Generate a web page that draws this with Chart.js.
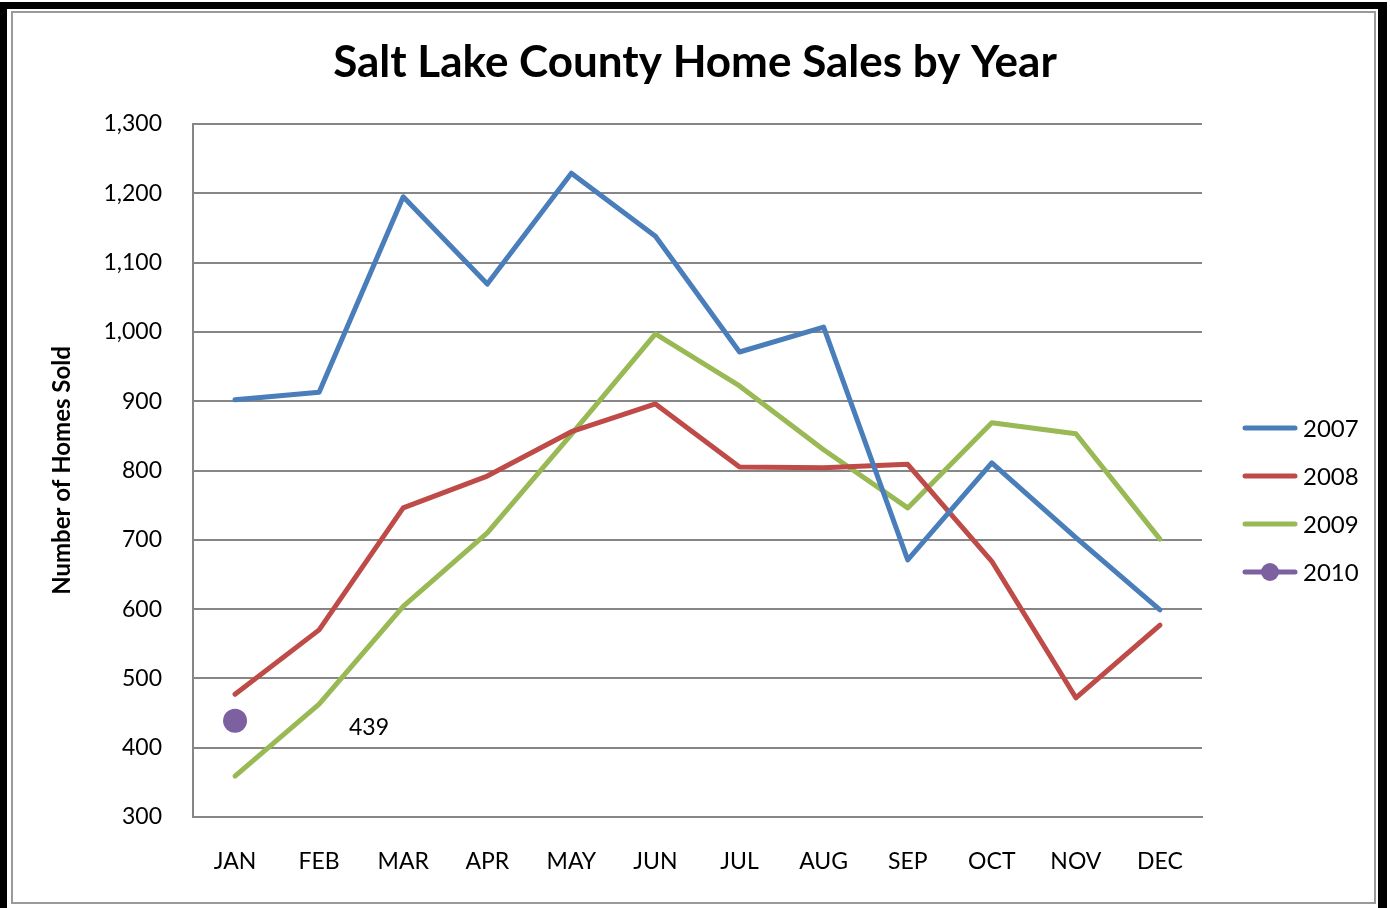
<!DOCTYPE html>
<html>
<head>
<meta charset="utf-8">
<script src="https://cdn.jsdelivr.net/npm/chart.js@4/dist/chart.umd.min.js"></script>
<style>
  html, body { margin: 0; padding: 0; background: #fff; }
  #wrap { position: absolute; left: 0; top: 0; width: 1390px; height: 908px; }
</style>
</head>
<body>
<div id="wrap"><canvas id="c" width="1390" height="908"></canvas></div>
<script>
const months = ['JAN','FEB','MAR','APR','MAY','JUN','JUL','AUG','SEP','OCT','NOV','DEC'];
const sales2007 = [902, 913, 1195, 1069, 1229, 1138, 971, 1007, 671, 811, 703, 599];
const sales2008 = [477, 570, 746, 792, 856, 896, 805, 804, 809, 669, 472, 577];
const sales2009 = [359, 463, 604, 710, 852, 997, 922, 830, 746, 869, 853, 701];
const sales2010 = [439, null, null, null, null, null, null, null, null, null, null, null];
const seriesLabels = ['2007', '2008', '2009', '2010'];
const seriesColors = ['#4A7EBB', '#BE4B48', '#98B954', '#7D60A0'];

const FONT = 'Lato, "Open Sans", sans-serif';

const framePlugin = {
  id: 'frame',
  beforeDraw(chart) {
    const ctx = chart.ctx;
    ctx.save();
    ctx.fillStyle = '#fff';
    ctx.fillRect(0, 0, chart.width, chart.height);
    ctx.fillStyle = '#000';
    ctx.fillRect(0, 2, 7, chart.height - 2);
    ctx.fillRect(0, 2, 1387, 7);
    ctx.fillRect(1378, 2, 9, chart.height - 2);
    ctx.strokeStyle = '#9a9a9a';
    ctx.lineWidth = 2;
    ctx.strokeRect(12, 12, 1363, 891);
    ctx.restore();
  }
};

const extrasPlugin = {
  id: 'extras',
  afterDraw(chart) {
    const ctx = chart.ctx;
    ctx.save();
    // data label for 2010
    const meta = chart.getDatasetMeta(3);
    const pt = meta.data[0];
    ctx.fillStyle = '#000';
    ctx.font = '23px ' + FONT;
    ctx.textAlign = 'center';
    ctx.textBaseline = 'middle';
    ctx.fillText(String(sales2010[0]), pt.x + 134, pt.y + 7);
    // legend
    const lx0 = 1245, lx1 = 1295;
    const ys = [428, 476, 524, 572];
    chart.data.datasets.forEach((ds, i) => {
      const y = ys[i];
      ctx.strokeStyle = ds.borderColor;
      ctx.lineWidth = 5;
      ctx.lineCap = 'round';
      ctx.beginPath();
      ctx.moveTo(lx0, y);
      ctx.lineTo(lx1, y);
      ctx.stroke();
      if (i === 3) {
        ctx.fillStyle = ds.backgroundColor;
        ctx.beginPath();
        ctx.arc((lx0 + lx1) / 2, y, 9, 0, Math.PI * 2);
        ctx.fill();
      }
      ctx.fillStyle = '#000';
      ctx.font = '24px ' + FONT;
      ctx.textAlign = 'left';
      ctx.textBaseline = 'middle';
      ctx.fillText(ds.label, 1303, y + 1);
    });
    ctx.restore();
  }
};

const ds = (i, data, extra) => Object.assign({
  label: seriesLabels[i],
  data: data,
  borderColor: seriesColors[i],
  backgroundColor: seriesColors[i],
  borderWidth: 5,
  pointRadius: 0,
  tension: 0,
  borderCapStyle: 'round',
  borderJoinStyle: 'round'
}, extra || {});

new Chart(document.getElementById('c'), {
  type: 'line',
  data: {
    labels: months,
    datasets: [
      ds(0, sales2007),
      ds(1, sales2008),
      ds(2, sales2009),
      ds(3, sales2010, { pointRadius: 12, pointBorderWidth: 0, showLine: false })
    ]
  },
  options: {
    responsive: false,
    animation: false,
    events: [],
    layout: { padding: { left: 0, right: 0, top: 10, bottom: 0 } },
    plugins: {
      legend: { display: false },
      tooltip: { enabled: false },
      title: {
        display: true,
        text: 'Salt Lake County Home Sales by Year',
        color: '#000',
        font: { family: FONT, size: 44, weight: 'bold', lineHeight: 1.2 },
        padding: { top: 26.6, bottom: 34.6 }
      }
    },
    scales: {
      x: {
        offset: true,
        grid: { display: false, drawTicks: false },
        border: { display: true, color: '#868686', width: 2 },
        ticks: { color: '#000', font: { family: FONT, size: 23 }, padding: 31, maxRotation: 0, autoSkip: false },
        afterFit(scale) { scale.height = 91; }
      },
      y: {
        min: 300,
        max: 1300,
        ticks: {
          stepSize: 100,
          color: '#000',
          font: { family: FONT, size: 23 },
          padding: 31,
          callback: (v) => v.toLocaleString('en-US')
        },
        grid: { color: '#868686', lineWidth: 2, drawTicks: false },
        border: { display: true, color: '#868686', width: 2 },
        title: {
          display: true,
          text: 'Number of Homes Sold',
          color: '#000',
          font: { family: FONT, size: 24, weight: 'bold', lineHeight: 1.2 },
          padding: { top: 48, bottom: 0 }
        },
        afterFit(scale) { scale.width = 193; }
      },
      yRight: {
        position: 'right',
        display: true,
        min: 300,
        max: 1300,
        grid: { display: false, drawTicks: false },
        border: { display: false },
        ticks: { display: false },
        afterFit(scale) { scale.width = 188; }
      }
    }
  },
  plugins: [framePlugin, extrasPlugin]
});
</script>
</body>
</html>
